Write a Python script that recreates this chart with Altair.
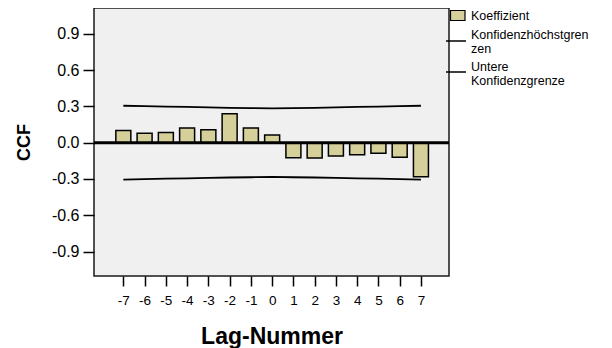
import altair as alt
import pandas as pd

lags = [-7, -6, -5, -4, -3, -2, -1, 0, 1, 2, 3, 4, 5, 6, 7]
coef = [0.100, 0.078, 0.083, 0.121, 0.107, 0.240, 0.121, 0.063,
        -0.124, -0.127, -0.110, -0.100, -0.088, -0.121, -0.281]
upper = [0.305, 0.302, 0.298, 0.295, 0.291, 0.288, 0.286, 0.283,
         0.286, 0.288, 0.291, 0.295, 0.298, 0.302, 0.305]
lower = [-0.305, -0.302, -0.298, -0.295, -0.291, -0.288, -0.286, -0.283,
         -0.286, -0.288, -0.291, -0.295, -0.298, -0.302, -0.305]
y_ticks = [-0.9, -0.6, -0.3, 0.0, 0.3, 0.6, 0.9]
legend_labels = ["Koeffizient", "Konfidenzhöchstgren\nzen", "Untere\nKonfidenzgrenze"]

df = pd.DataFrame({"lag": lags, "coef": coef, "upper": upper, "lower": lower})

FONT = "Liberation Sans"
BAR = "#d5cf99"
W, H = 355, 268

xs = alt.Scale(domain=[-8.38, 8.32], nice=False, zero=False, padding=0)
ys = alt.Scale(domain=[-1.102, 1.113], nice=False, zero=False, padding=0)

x_enc = alt.X("lag:Q", scale=xs, axis=alt.Axis(
    values=lags, tickCount=30, title="Lag-Nummer", grid=False, domain=False,
    labelExpr="(datum.value < 0 ? '-' : '') + abs(datum.value)",
    labelOverlap=False,
    tickSize=10, tickWidth=1.5, tickColor="black", labelPadding=7,
    labelFont=FONT, labelFontSize=13.5, labelColor="black",
    titleFont=FONT, titleFontSize=23, titleFontWeight="bold", titleColor="black",
    titleX=W / 2, titleY=67, titleBaseline="alphabetic", titleAlign="center"))
y_enc = alt.Y("coef:Q", scale=ys, axis=alt.Axis(
    values=y_ticks, tickCount=30, title="CCF", grid=False, domain=False,
    labelExpr="(datum.value < 0 ? '-' : '') + format(abs(datum.value), '.1f')",
    labelOverlap=False,
    tickSize=11, tickWidth=1.5, tickColor="black", labelPadding=4,
    labelFont=FONT, labelFontSize=16, labelColor="black",
    titleFont=FONT, titleFontSize=18, titleFontWeight="bold", titleColor="black",
    titleAngle=270, titleX=-70, titleY=134, titleAlign="center",
    titleBaseline="middle"))

base = alt.Chart(df)

bars = base.mark_bar(width=15, fill=BAR, stroke="black", strokeWidth=1.5).encode(
    x=x_enc, y=y_enc, y2=alt.datum(0))

up_line = base.mark_line(color="black", strokeWidth=1.8).encode(
    x=alt.X("lag:Q", scale=xs), y=alt.Y("upper:Q", scale=ys))
lo_line = base.mark_line(color="black", strokeWidth=1.8).encode(
    x=alt.X("lag:Q", scale=xs), y=alt.Y("lower:Q", scale=ys))

zero = alt.Chart(pd.DataFrame({"z": [0.0]})).mark_rule(
    color="black", strokeWidth=3).encode(y=alt.Y("z:Q", scale=ys))

one = pd.DataFrame({"k": [0]})

leg_swatch = alt.Chart(one).mark_rect(fill=BAR, stroke="black", strokeWidth=1.2).encode(
    x=alt.value(356.5), x2=alt.value(371), y=alt.value(2.5), y2=alt.value(12.5))
leg_l1 = alt.Chart(one).mark_rule(color="black", strokeWidth=1.5).encode(
    x=alt.value(352), x2=alt.value(372), y=alt.value(33), y2=alt.value(33))
leg_l2 = alt.Chart(one).mark_rule(color="black", strokeWidth=1.5).encode(
    x=alt.value(352), x2=alt.value(372), y=alt.value(64), y2=alt.value(64))

def leg_text(label, ypos):
    return alt.Chart(one).mark_text(
        align="left", baseline="middle", font=FONT, fontSize=12.5,
        color="black", lineBreak="\n", lineHeight=14).encode(
        x=alt.value(377), y=alt.value(ypos), text=alt.value(label))

t1 = leg_text(legend_labels[0], 8)
t2 = leg_text(legend_labels[1], 27)
t3 = leg_text(legend_labels[2], 59)

chart = alt.layer(bars, up_line, lo_line, zero, leg_swatch, leg_l1, leg_l2, t1, t2, t3).properties(
    width=W, height=H,
    autosize=alt.AutoSizeParams(type="none"),
    padding={"left": 86, "top": 0, "right": 155, "bottom": 72},
    background="white",
).configure_view(
    fill="#f0f0f0", stroke="#1a1a1a", strokeWidth=1.5
)

chart.save("out.html", embed_options={"renderer": "svg", "actions": False})
